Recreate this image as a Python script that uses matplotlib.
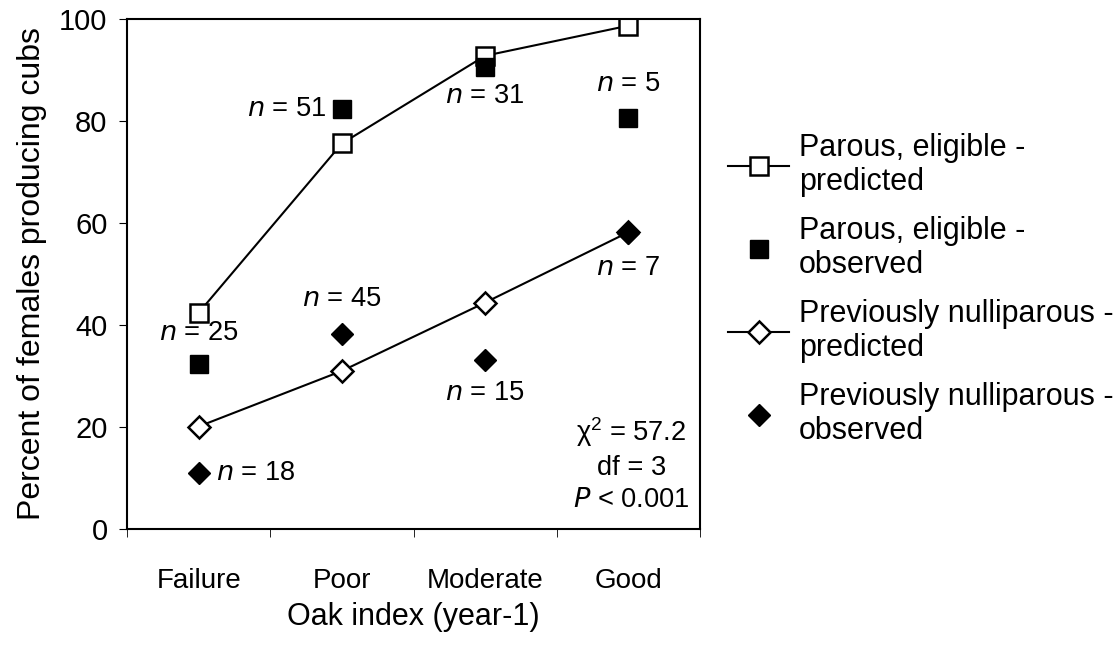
#!/usr/bin/env python3
import matplotlib
matplotlib.use('Agg')
import matplotlib.pyplot as plt
import numpy as np

plt.rcParams['font.family'] = ['Liberation Sans', 'DejaVu Sans']
plt.rcParams['mathtext.default'] = 'regular'
text_size = 20

categories = ['Failure', 'Poor', 'Moderate', 'Good']
parous_pred = [42.4, 75.6, 92.8, 98.7]
parous_obs = [32.3, 82.4, 90.6, 80.6]
nulli_pred = [20.1, 31.0, 44.4, 58.2]
nulli_obs = [11.0, 38.3, 33.1, 58.0]

# sample size labels: (category index, y, text, ha)
n_labels = [
  (0, 38.4, '25', 'center'),
  (1, 82.4, '51', 'right'),
  (2, 85.0, '31', 'center'),
  (3, 87.3, '5', 'center'),
  (1, 45.2, '45', 'center'),
  (2, 26.7, '15', 'center'),
  (3, 51.2, '7', 'center'),
  (0, 11.0, '18', 'left'),
]

def main():
  fig = plt.figure(figsize=(11.2, 6.48), dpi=100)
  ax = fig.add_axes([0.1134, 0.1836, 0.5116, 0.787])
  x = np.arange(len(categories))

  ax.plot(x, parous_pred, color='black', lw=1.5, marker='s', ms=13.5,
          mfc='white', mec='black', mew=1.8, label='Parous, eligible -\npredicted', zorder=2)
  ax.plot(x, parous_obs, ls='none', marker='s', ms=13.5, color='black',
          label='Parous, eligible -\nobserved', zorder=3)
  ax.plot(x, nulli_pred, color='black', lw=1.5, marker='D', ms=11,
          mfc='white', mec='black', mew=1.8, label='Previously nulliparous -\npredicted', zorder=2)
  ax.plot(x, nulli_obs, ls='none', marker='D', ms=11, color='black',
          label='Previously nulliparous -\nobserved', zorder=3)

  for i, yv, txt, ha in n_labels:
    xv = x[i]
    if ha == 'right':
      xv = x[i] - 0.11
    elif ha == 'left':
      xv = x[i] + 0.12
    ax.text(xv, yv, r'$\it{n}$ = ' + txt, ha=ha, va='center', fontsize=text_size * 0.98)

  ax.text(3.02, 12.8, 'χ$^2$ = 57.2\ndf = 3\n$\\it{P}$ < 0.001', ha='center', va='center',
          fontsize=text_size * 0.98, linespacing=1.3)

  ax.set_xlim(-0.5, 3.5)
  ax.set_ylim(0, 100)
  ax.set_yticks(np.arange(0, 101, 20))
  ax.set_xticks(x)
  ax.set_xticklabels(categories)
  ax.set_xticks(np.arange(-0.5, 3.6, 1), minor=True)
  ax.tick_params(axis='x', which='major', length=0, pad=28, labelsize=text_size)
  ax.tick_params(axis='x', which='minor', length=6, direction='out')
  ax.tick_params(axis='y', length=6, direction='out', pad=8, labelsize=text_size * 1.05)
  for sp in ax.spines.values():
    sp.set_linewidth(1.5)

  ax.set_ylabel('Percent of females producing cubs', fontsize=text_size * 1.15, labelpad=9)
  ax.set_xlabel('Oak index (year-1)', fontsize=text_size * 1.1, labelpad=6)

  fig.legend(loc='upper left', bbox_to_anchor=(0.65, 0.795), frameon=False,
             fontsize=text_size * 1.1, handlelength=2.0, handletextpad=0.33,
             labelspacing=0.6, borderpad=0, borderaxespad=0)
  fig.savefig('out.png', dpi=100)

if __name__ == '__main__':
  main()
